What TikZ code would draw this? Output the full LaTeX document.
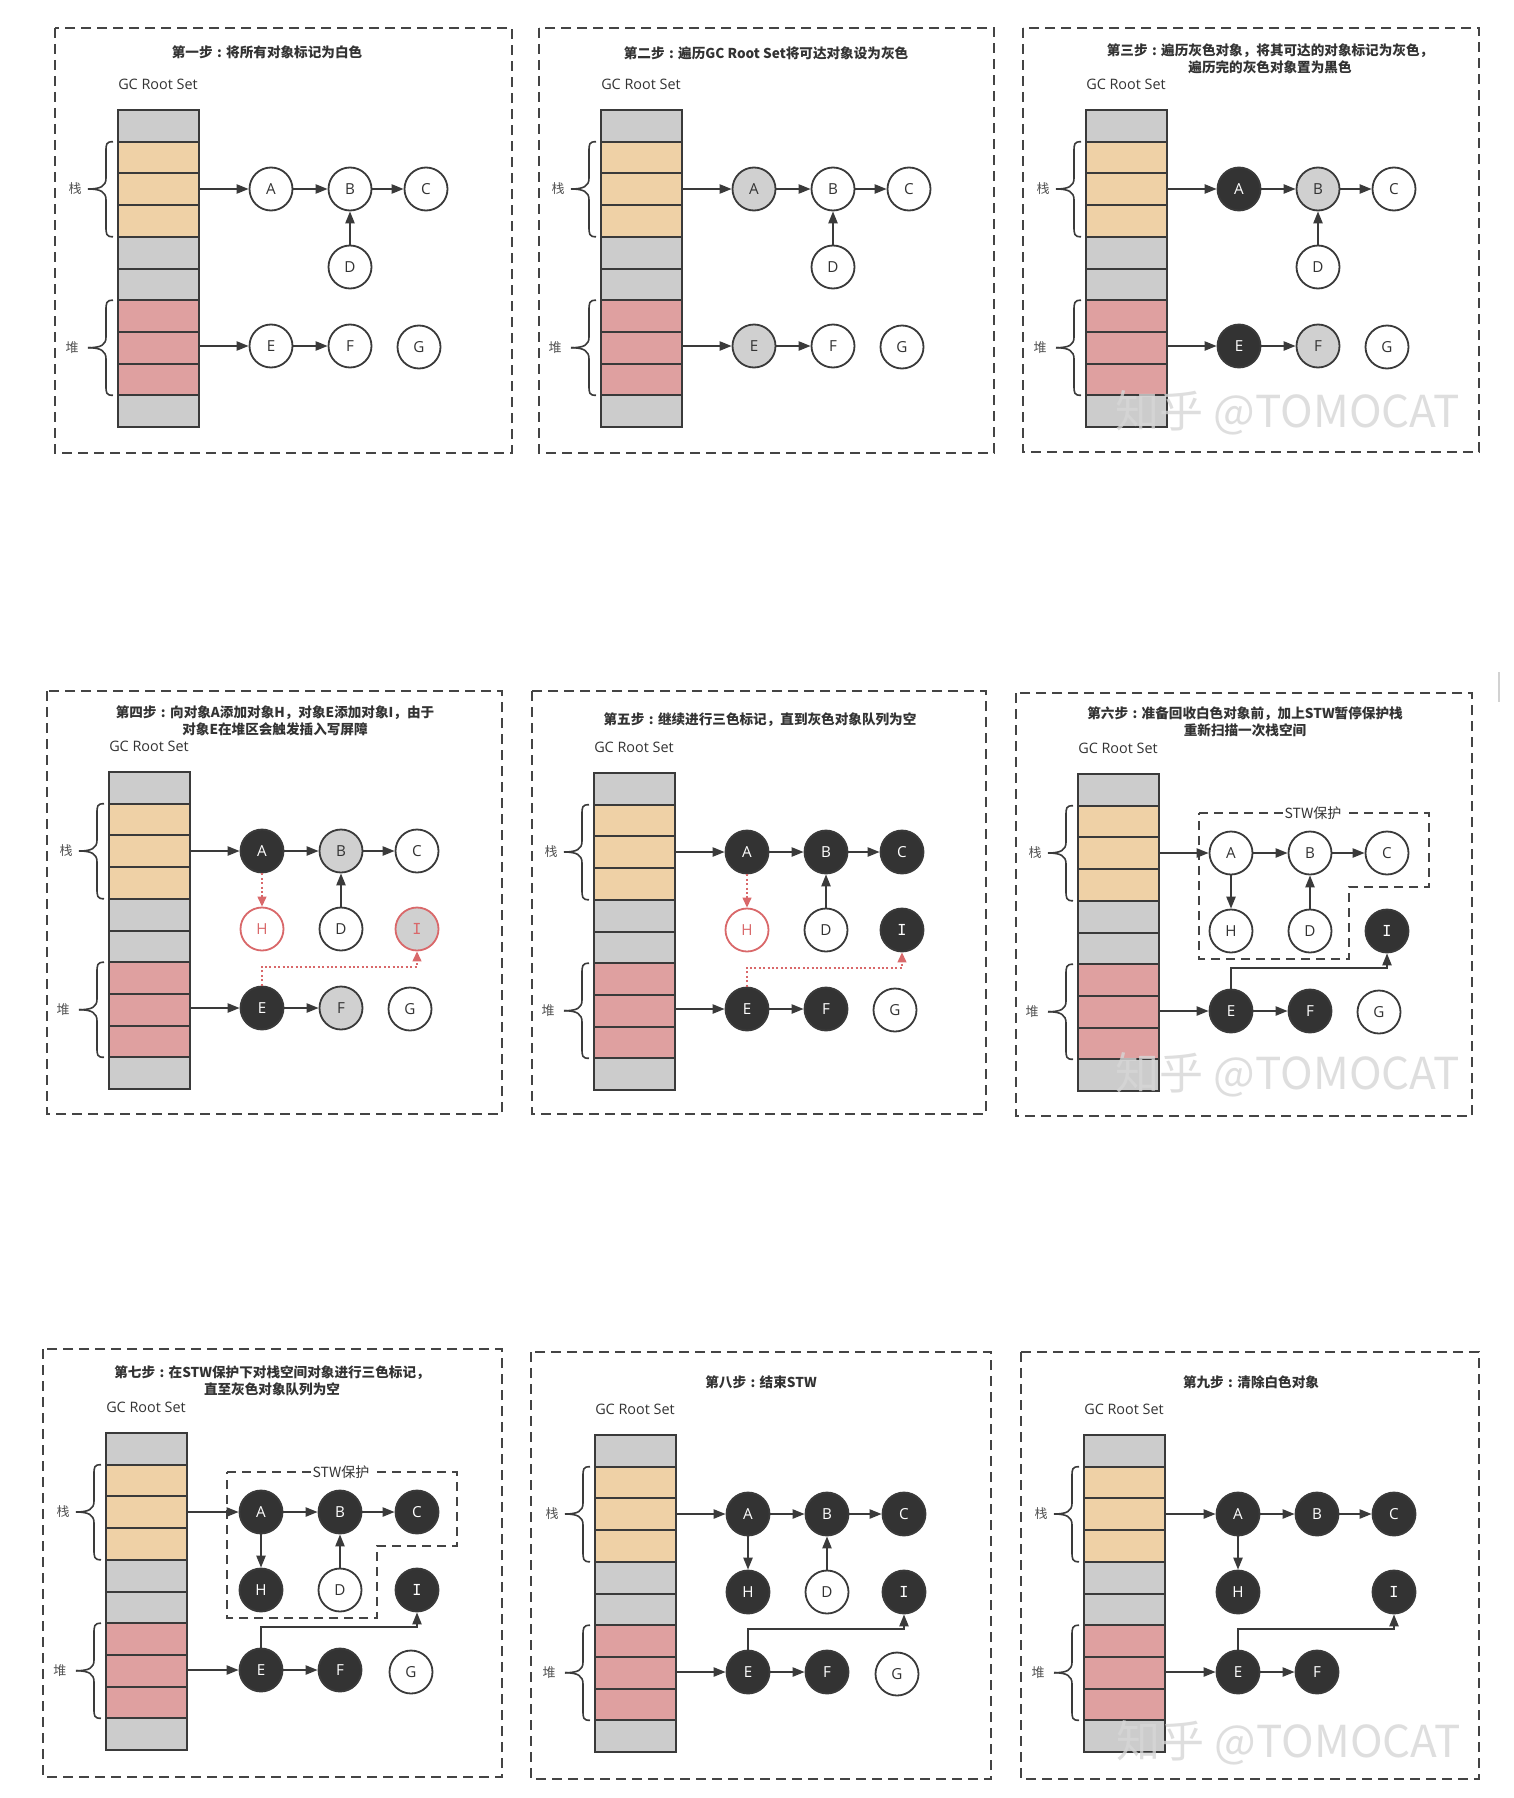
\documentclass[tikz,border=0pt]{standalone}
\usepackage{fontspec}
\setmainfont{Open Sans}
\newfontfamily\cjk{Noto Sans CJK SC}
\newfontfamily\ifont{DejaVu Sans Mono}
\usetikzlibrary{arrows.meta}
\definecolor{cgray}{HTML}{CCCCCC}
\definecolor{ctan}{HTML}{EFD1A6}
\definecolor{cred}{HTML}{DFA0A0}
\definecolor{cdark}{HTML}{333333}
\definecolor{cmid}{HTML}{D0D0D0}
\definecolor{cline}{HTML}{3A3A3A}
\definecolor{cbox}{HTML}{444444}
\definecolor{cpink}{HTML}{D9686A}
\newcommand\fcol{\makebox[1em][c]{:}}
\tikzset{
  panelbox/.style={draw=cbox, line width=1.1pt, dash pattern=on 5pt off 3pt},
  stwbox/.style={draw=cbox, line width=1pt, dash pattern=on 4.5pt off 3pt},
  cell/.style={draw=cline, line width=1pt},
  obj/.style={circle, draw=cline, line width=0.9pt, minimum size=21.5pt, inner sep=0pt, font=\fontsize{7.6}{8}\selectfont, text=cdark, fill=white},
  wobj/.style={obj},
  gobj/.style={obj, fill=cmid},
  bobj/.style={obj, fill=cdark, text=white},
  robj/.style={obj, draw=cpink, text=cpink},
  rgobj/.style={obj, draw=cpink, text=cpink, fill=cmid},
  arr/.style={draw=cline, line width=0.9pt, -{Triangle[length=6pt,width=4.6pt]}},
  rarr/.style={draw=cpink, line width=0.9pt, dash pattern=on 1pt off 1.2pt, -{Triangle[length=5pt,width=4.4pt]}},
  brc/.style={draw=cline, line width=0.8pt},
  ttl/.style={font=\cjk\bfseries\fontsize{6.8}{8.6}\selectfont, text=cdark, align=center, inner sep=0pt},
  gcl/.style={font=\fontsize{7.2}{8}\selectfont, text=cdark, inner sep=0pt},
  side/.style={font=\cjk\fontsize{6.5}{7}\selectfont, text=cdark!85, inner sep=0pt},
  stwl/.style={font=\cjk\fontsize{7}{8}\selectfont, text=cdark, fill=white, inner sep=1pt},
  wm/.style={font=\cjk\fontsize{22}{24}\selectfont, text=gray!32, opacity=0.8, inner sep=0pt},
}
\newcommand\gcbase[7]{%
  \xdef\sx{#2}\xdef\sy{#3}%
  \draw[panelbox] (#4,#5) rectangle (#6,#7);
  \foreach \k/\clr in {0/cgray,1/ctan,2/ctan,3/ctan,4/cgray,5/cgray,6/cred,7/cred,8/cred,9/cgray}
    {\draw[cell, fill=\clr] (#2,{#3+\k*31.7}) rectangle ({#2+81},{#3+\k*31.7+31.7});}
  \node[gcl] (#1gc) at ({#2+40},{#3-26}) {GC Root Set};
  \draw[brc] ({#2-5},{#3+31.7}) .. controls ({#2-12},{#3+31.7}) and ({#2-12},{#3+34}) .. ({#2-12},{#3+42}) -- ({#2-12},{#3+68}) .. controls ({#2-12},{#3+76}) and ({#2-17},{#3+79}) .. ({#2-30},{#3+79});
  \draw[brc] ({#2-5},{#3+126.8}) .. controls ({#2-12},{#3+126.8}) and ({#2-12},{#3+124}) .. ({#2-12},{#3+116}) -- ({#2-12},{#3+90}) .. controls ({#2-12},{#3+82}) and ({#2-17},{#3+79}) .. ({#2-30},{#3+79});
  \draw[brc] ({#2-5},{#3+190.2}) .. controls ({#2-12},{#3+190.2}) and ({#2-12},{#3+193}) .. ({#2-12},{#3+201}) -- ({#2-12},{#3+227}) .. controls ({#2-12},{#3+235}) and ({#2-17},{#3+237.7}) .. ({#2-30},{#3+237.7});
  \draw[brc] ({#2-5},{#3+285.3}) .. controls ({#2-12},{#3+285.3}) and ({#2-12},{#3+283}) .. ({#2-12},{#3+275}) -- ({#2-12},{#3+249}) .. controls ({#2-12},{#3+241}) and ({#2-17},{#3+237.7}) .. ({#2-30},{#3+237.7});
  \node[side] (#1zl) at ({#2-43},{#3+79}) {栈};
  \node[side] (#1dl) at ({#2-46},{#3+238}) {堆};
  \coordinate (#1rA) at ({#2+81},{#3+79});
  \coordinate (#1rE) at ({#2+81},{#3+236});
}
\newcommand\ND[5]{\node[#1] (#2) at ({\sx+#3},{\sy+#4}) {#5};}
\newcommand\basicedges[1]{%
  \draw[arr] (#1rA |- #1A) -- (#1A);
  \draw[arr] (#1A) -- (#1B);
  \draw[arr] (#1B) -- (#1C);
  \draw[arr] (#1rE |- #1E) -- (#1E);
  \draw[arr] (#1E) -- (#1F);
}
\newcommand\stw[1]{%
  \draw[stwbox] ({\sx+121},{\sy+39}) -- ({\sx+351},{\sy+39}) -- ({\sx+351},{\sy+113}) -- ({\sx+271},{\sy+113}) -- ({\sx+271},{\sy+185}) -- ({\sx+121},{\sy+185}) -- cycle;
  \node[stwl] (#1stw) at ({\sx+235},{\sy+39}) {STW保护};
}
\begin{document}
\begin{tikzpicture}[x=0.5pt,y=-0.5pt]
\useasboundingbox (0,0) rectangle (1514,1798);
\fill[white] (0,0) rectangle (1514,1798);
\draw[gray!35, line width=1pt] (1499,672) -- (1499,702);

% ---------- Panel 1
\gcbase{p1}{118}{110}{55}{28}{512}{453}
\node[ttl] (p1t) at (267,52) {第一步\fcol 将所有对象标记为白色};
\ND{wobj}{p1A}{153}{79}{A}
\ND{wobj}{p1B}{232}{79}{B}
\ND{wobj}{p1C}{308}{79}{C}
\ND{wobj}{p1D}{232}{157}{D}
\ND{wobj}{p1E}{153}{236}{E}
\ND{wobj}{p1F}{232}{236}{F}
\ND{wobj}{p1G}{301}{237}{G}
\basicedges{p1}
\draw[arr] (p1D) -- (p1B);

% ---------- Panel 2
\gcbase{p2}{601}{110}{539}{28}{994}{453}
\node[ttl] (p2t) at (766,53) {第二步\fcol 遍历GC Root Set将可达对象设为灰色};
\ND{gobj}{p2A}{153}{79}{A}
\ND{wobj}{p2B}{232}{79}{B}
\ND{wobj}{p2C}{308}{79}{C}
\ND{wobj}{p2D}{232}{157}{D}
\ND{gobj}{p2E}{153}{236}{E}
\ND{wobj}{p2F}{232}{236}{F}
\ND{wobj}{p2G}{301}{237}{G}
\basicedges{p2}
\draw[arr] (p2D) -- (p2B);

% ---------- Panel 3
\gcbase{p3}{1086}{110}{1023}{28}{1479}{452}
\node[ttl] (p3t) at (1270,58.5) {第三步\fcol 遍历灰色对象，将其可达的对象标记为灰色，\\遍历完的灰色对象置为黑色};
\ND{bobj}{p3A}{153}{79}{A}
\ND{gobj}{p3B}{232}{79}{B}
\ND{wobj}{p3C}{308}{79}{C}
\ND{wobj}{p3D}{232}{157}{D}
\ND{bobj}{p3E}{153}{236}{E}
\ND{gobj}{p3F}{232}{236}{F}
\ND{wobj}{p3G}{301}{237}{G}
\basicedges{p3}
\draw[arr] (p3D) -- (p3B);
\node[wm] (p3wm) at (1288,413) {知乎 @TOMOCAT};

% ---------- Panel 4
\gcbase{p4}{109}{772}{47}{691}{502}{1114}
\node[ttl] (p4t) at (275,720.5) {第四步\fcol 向对象A添加对象H，对象E添加对象I，由于\\对象E在堆区会触发插入写屏障};
\ND{bobj}{p4A}{153}{79}{A}
\ND{gobj}{p4B}{232}{79}{B}
\ND{wobj}{p4C}{308}{79}{C}
\ND{robj}{p4H}{153}{157}{H}
\ND{wobj}{p4D}{232}{157}{D}
\ND{rgobj}{p4I}{308}{157}{\ifont I}
\ND{bobj}{p4E}{153}{236}{E}
\ND{gobj}{p4F}{232}{236}{F}
\ND{wobj}{p4G}{301}{237}{G}
\basicedges{p4}
\draw[arr] (p4D) -- (p4B);
\draw[rarr] (p4A) -- (p4H);
\draw[rarr] (p4E.north) -- ++(0,-19) -| (p4I.south);

% ---------- Panel 5
\gcbase{p5}{594}{773}{532}{691}{986}{1114}
\node[ttl] (p5t) at (760,720) {第五步\fcol 继续进行三色标记，直到灰色对象队列为空};
\ND{bobj}{p5A}{153}{79}{A}
\ND{bobj}{p5B}{232}{79}{B}
\ND{bobj}{p5C}{308}{79}{C}
\ND{robj}{p5H}{153}{157}{H}
\ND{wobj}{p5D}{232}{157}{D}
\ND{bobj}{p5I}{308}{157}{\ifont I}
\ND{bobj}{p5E}{153}{236}{E}
\ND{bobj}{p5F}{232}{236}{F}
\ND{wobj}{p5G}{301}{237}{G}
\basicedges{p5}
\draw[arr] (p5D) -- (p5B);
\draw[rarr] (p5A) -- (p5H);
\draw[rarr] (p5E.north) -- ++(0,-19) -| (p5I.south);

% ---------- Panel 6
\gcbase{p6}{1078}{774}{1016}{693}{1472}{1116}
\node[ttl] (p6t) at (1245,722) {第六步\fcol 准备回收白色对象前，加上STW暂停保护栈\\重新扫描一次栈空间};
\stw{p6}
\ND{wobj}{p6A}{153}{79}{A}
\ND{wobj}{p6B}{232}{79}{B}
\ND{wobj}{p6C}{309}{79}{C}
\ND{wobj}{p6H}{153}{157}{H}
\ND{wobj}{p6D}{232}{157}{D}
\ND{bobj}{p6I}{309}{157}{\ifont I}
\ND{bobj}{p6E}{153}{237}{E}
\ND{bobj}{p6F}{232}{237}{F}
\ND{wobj}{p6G}{301}{238}{G}
\basicedges{p6}
\draw[arr] (p6D) -- (p6B);
\draw[arr] (p6A) -- (p6H);
\draw[arr] (p6E.north) -- ++(0,-20.5) -| (p6I.south);
\node[wm] (p6wm) at (1288,1075) {知乎 @TOMOCAT};

% ---------- Panel 7
\gcbase{p7}{106}{1433}{43}{1349}{502}{1777}
\node[ttl] (p7t) at (272,1380.5) {第七步\fcol 在STW保护下对栈空间对象进行三色标记，\\直至灰色对象队列为空};
\stw{p7}
\ND{bobj}{p7A}{155}{79}{A}
\ND{bobj}{p7B}{234}{79}{B}
\ND{bobj}{p7C}{311}{79}{C}
\ND{bobj}{p7H}{155}{157}{H}
\ND{wobj}{p7D}{234}{157}{D}
\ND{bobj}{p7I}{311}{157}{\ifont I}
\ND{bobj}{p7E}{155}{237}{E}
\ND{bobj}{p7F}{234}{237}{F}
\ND{wobj}{p7G}{305}{239}{G}
\basicedges{p7}
\draw[arr] (p7D) -- (p7B);
\draw[arr] (p7A) -- (p7H);
\draw[arr] (p7E.north) -- ++(0,-20.5) -| (p7I.south);

% ---------- Panel 8
\gcbase{p8}{595}{1435}{531}{1352}{991}{1779}
\node[ttl] (p8t) at (761,1382) {第八步\fcol 结束STW};
\ND{bobj}{p8A}{153}{79}{A}
\ND{bobj}{p8B}{232}{79}{B}
\ND{bobj}{p8C}{309}{79}{C}
\ND{bobj}{p8H}{153}{157}{H}
\ND{wobj}{p8D}{232}{157}{D}
\ND{bobj}{p8I}{309}{157}{\ifont I}
\ND{bobj}{p8E}{153}{237}{E}
\ND{bobj}{p8F}{232}{237}{F}
\ND{wobj}{p8G}{302}{239}{G}
\basicedges{p8}
\draw[arr] (p8D) -- (p8B);
\draw[arr] (p8A) -- (p8H);
\draw[arr] (p8E.north) -- ++(0,-20.5) -| (p8I.south);

% ---------- Panel 9
\gcbase{p9}{1084}{1435}{1021}{1352}{1479}{1779}
\node[ttl] (p9t) at (1251,1382) {第九步\fcol 清除白色对象};
\ND{bobj}{p9A}{154}{79}{A}
\ND{bobj}{p9B}{233}{79}{B}
\ND{bobj}{p9C}{310}{79}{C}
\ND{bobj}{p9H}{154}{157}{H}
\ND{bobj}{p9I}{310}{157}{\ifont I}
\ND{bobj}{p9E}{154}{237}{E}
\ND{bobj}{p9F}{233}{237}{F}
\basicedges{p9}
\draw[arr] (p9A) -- (p9H);
\draw[arr] (p9E.north) -- ++(0,-20.5) -| (p9I.south);
\node[wm] (p9wm) at (1289,1743) {知乎 @TOMOCAT};
\end{tikzpicture}
\end{document}
